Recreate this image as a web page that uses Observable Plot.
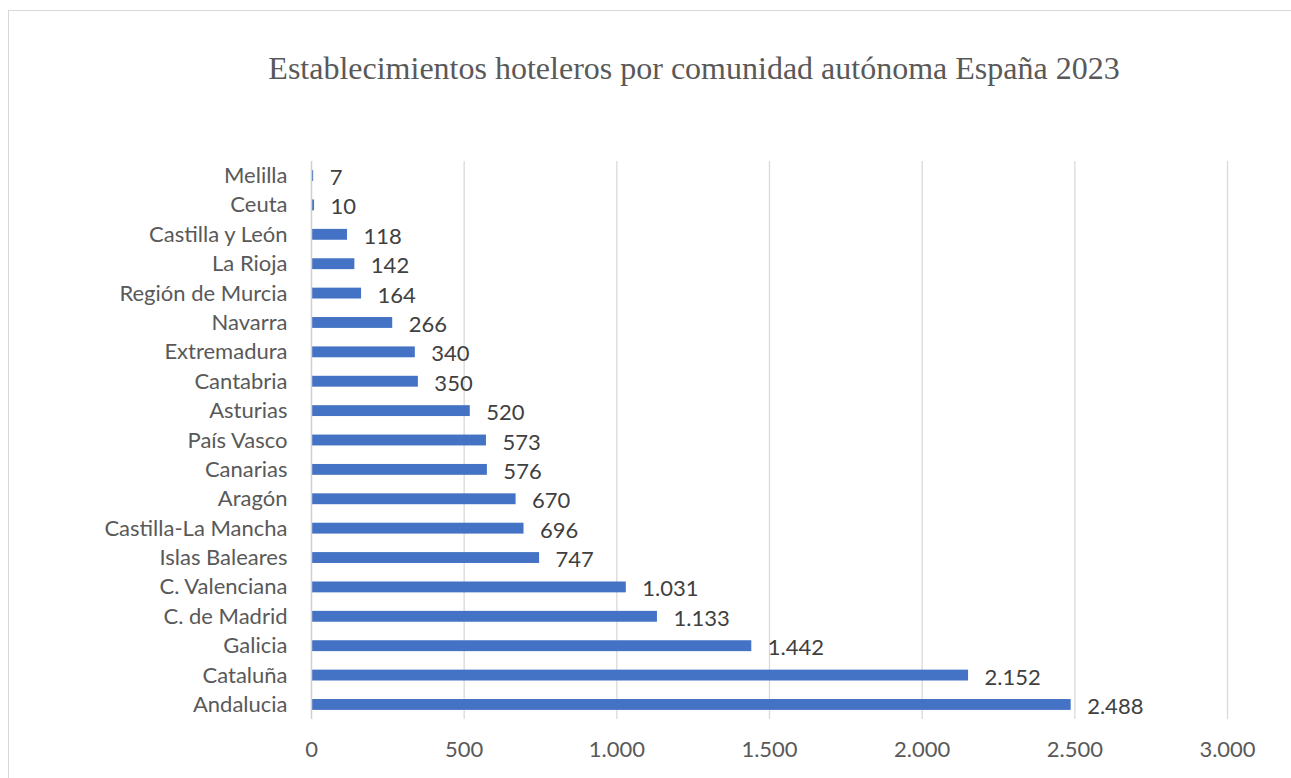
<!DOCTYPE html>
<html>
<head>
<meta charset="utf-8">
<script src="https://cdn.jsdelivr.net/npm/d3@7"></script>
<script src="https://cdn.jsdelivr.net/npm/@observablehq/plot@0.6"></script>
<style>
  html, body { margin: 0; padding: 0; background: #fff; }
  #wrap { position: relative; width: 1291px; height: 778px; overflow: hidden; }
  #frame { position: absolute; left: 8px; top: 10px; width: 1300px; height: 780px; border: 1px solid #d9d9d9; box-sizing: border-box; }
  #title { position: absolute; left: 194px; width: 1000px; top: 52px; text-align: center;
           font-family: "Liberation Serif", "Times New Roman", serif; font-size: 32px; line-height: 32px; color: #595959; white-space: nowrap; }
  #chart { position: absolute; left: 0; top: 130px; }
</style>
</head>
<body>
<div id="wrap">
  <div id="frame"></div>
  <div id="title">Establecimientos hoteleros por comunidad autónoma España 2023</div>
  <div id="chart"></div>
</div>
<script>
const categories = ["Melilla", "Ceuta", "Castilla y León", "La Rioja", "Región de Murcia", "Navarra", "Extremadura", "Cantabria", "Asturias", "País Vasco", "Canarias", "Aragón", "Castilla-La Mancha", "Islas Baleares", "C. Valenciana", "C. de Madrid", "Galicia", "Cataluña", "Andalucia"];
const values = [7, 10, 118, 142, 164, 266, 340, 350, 520, 573, 576, 670, 696, 747, 1031, 1133, 1442, 2152, 2488];
const xTicks = [0, 500, 1000, 1500, 2000, 2500, 3000];

const data = categories.map((c, i) => ({region: c, value: values[i]}));
const locale = d3.formatLocale({decimal: ",", thousands: ".", grouping: [3], currency: ["", " €"]});
const fmt = locale.format(",d");

const font = "Lato, 'Open Sans', sans-serif";
const plot = Plot.plot({
  width: 1291,
  height: 640,
  marginLeft: 311,
  marginRight: 64,
  marginTop: 31,
  marginBottom: 51,
  style: {fontFamily: font, fontSize: "22px", color: "#595959", background: "transparent"},
  x: {domain: [0, 3000], ticks: xTicks, tickFormat: fmt, label: null},
  y: {domain: categories, paddingInner: 0.63, paddingOuter: 0.31, round: false, label: null},
  marks: [
    Plot.ruleX(xTicks.filter(d => d > 0), {stroke: "#d9d9d9", strokeWidth: 1.3}),
    Plot.barX(data, {x: "value", y: "region", fill: "#4472C4"}),
    Plot.ruleX([0], {stroke: "#d0d0d0", strokeWidth: 1.5}),
    Plot.text(data, {x: "value", y: "region", text: d => fmt(d.value), textAnchor: "start", dx: 16, dy: 2, fill: "#404040", fontSize: 22}),
    Plot.axisX({ticks: xTicks, tickFormat: fmt, tickSize: 0, tickPadding: 22, label: null, fill: "#595959"}),
    Plot.axisY({tickSize: 0, tickPadding: 24, label: null, fill: "#595959"})
  ]
});
document.getElementById("chart").appendChild(plot);
</script>
</body>
</html>
